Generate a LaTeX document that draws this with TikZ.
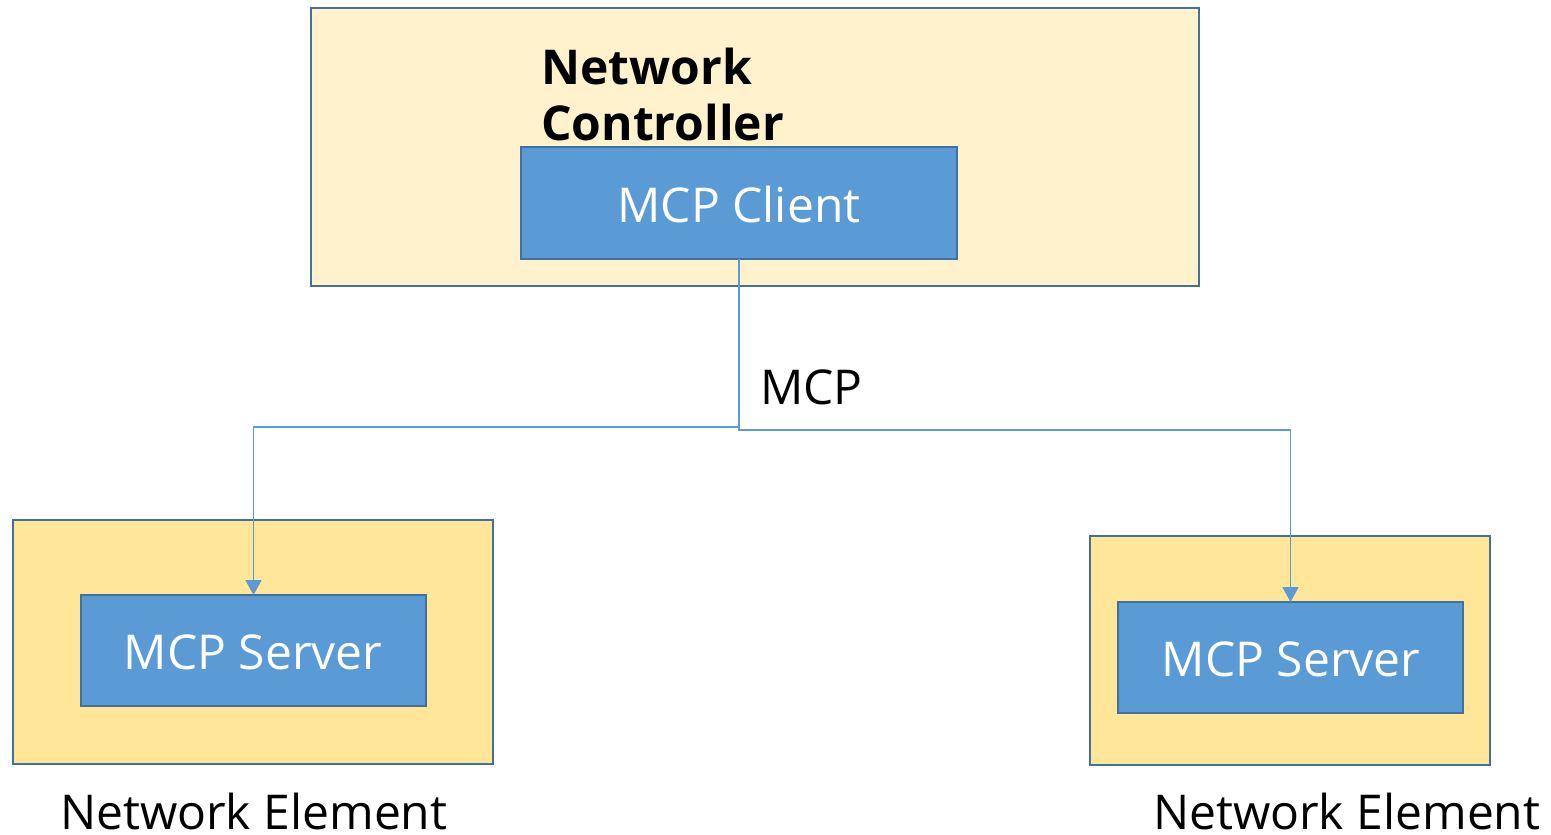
\documentclass[tikz,border=0pt]{standalone}
\usepackage{fontspec}
\setmainfont{Open Sans}
\usetikzlibrary{arrows.meta}
\definecolor{ctrlfill}{HTML}{FFF2CC}
\definecolor{elemfill}{HTML}{FFE699}
\definecolor{edge}{HTML}{41719C}
\definecolor{blue}{HTML}{5B9BD5}
\tikzset{
  frame/.style={draw=edge, line width=2.5pt, anchor=north west, inner sep=0pt, outer sep=0pt},
  ctrlbox/.style={frame, fill=ctrlfill},
  elembox/.style={frame, fill=elemfill},
  mcpbox/.style={frame, fill=blue, text=white, font=\fontsize{48}{56}\selectfont},
  conn/.style={draw=blue, line width=1.8pt, -{Triangle[width=16pt,length=15pt]}},
  link/.style={draw=blue, line width=1.8pt},
  lbl/.style={inner sep=0pt, outer sep=0pt, font=\fontsize{48}{56}\selectfont}
}
\begin{document}
\begin{tikzpicture}[x=1pt, y=-1pt]
\useasboundingbox (0,0) rectangle (1551,835);

% controller side
\node[ctrlbox, minimum width=888pt, minimum height=278pt] (nc) at (311,8) {};
\node[mcpbox, minimum width=436pt, minimum height=112pt] (cl) at (521,147) {};
\node[text=white, inner sep=0pt, font=\fontsize{48}{56}\selectfont, anchor=base] (clt) at (739,222) {MCP Client};
\node[inner sep=0pt, anchor=north west, align=left, font=\fontsize{48}{56}\selectfont\bfseries] (nct) at (541,48) {Network\\Controller};

% network elements
\node[elembox, minimum width=480pt, minimum height=244pt] (ne1) at (13,520) {};
\node[mcpbox, minimum width=345pt, minimum height=111pt] (s1) at (81,595) {};
\node[text=white, inner sep=0pt, font=\fontsize{48}{56}\selectfont, anchor=base] (s1t) at (253,669) {MCP Server};

\node[elembox, minimum width=400pt, minimum height=229pt] (ne2) at (1090,536) {};
\node[mcpbox, minimum width=345pt, minimum height=111pt] (s2) at (1118,602) {};
\node[text=white, inner sep=0pt, font=\fontsize{48}{56}\selectfont, anchor=base] (s2t) at (1291,676) {MCP Server};

\node[lbl, anchor=base west] (ne1t) at (60,829) {Network Element};
\node[lbl, anchor=base west] (ne2t) at (1153,829) {Network Element};

% MCP links
\coordinate (jl) at (739,427);
\coordinate (jr) at (739,430);
\draw[link] (cl.south) -- (jl);
\draw[conn] (jl) -| (s1.north);
\draw[conn] (jl) -- (jr) -| (s2.north);
\node[lbl, anchor=base west] (mcp) at (760,404) {MCP};
\end{tikzpicture}
\end{document}
